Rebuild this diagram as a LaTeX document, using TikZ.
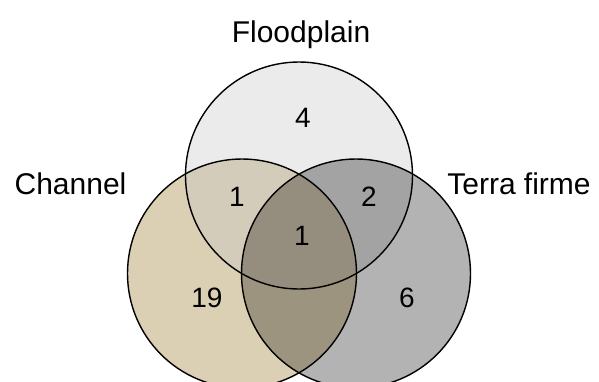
\documentclass[tikz,border=0pt]{standalone}
\usepackage{fontspec}
\setmainfont{Liberation Sans}
\definecolor{fOnly}{HTML}{EBEBEB}
\definecolor{cOnly}{HTML}{DBD0B4}
\definecolor{tOnly}{HTML}{B3B3B3}
\definecolor{fc}{HTML}{D4CCBA}
\definecolor{ft}{HTML}{A3A3A3}
\definecolor{ct}{HTML}{9D9480}
\definecolor{fct}{HTML}{958D7E}
\begin{document}
\begin{tikzpicture}[x=1pt,y=-1pt,
  setlabel/.style={font=\fontsize{30}{33}\selectfont, anchor=base, inner sep=0pt},
  count/.style={font=\fontsize{28}{31}\selectfont, anchor=base, inner sep=0pt},
  outline/.style={draw=black, line width=1.4pt}]
\useasboundingbox (0,0) rectangle (599,381);
\clip (0,0) rectangle (599,381);
\def\pathF{(299,175.5) circle (113.5)}
\def\pathC{(242,273.5) circle (114.5)}
\def\pathT{(356,273.5) circle (114.5)}
\fill[cOnly] \pathC;
\fill[tOnly] \pathT;
\fill[fOnly] \pathF;
\begin{scope}\clip \pathC; \fill[fc] \pathF; \end{scope}
\begin{scope}\clip \pathT; \fill[ft] \pathF; \end{scope}
\begin{scope}\clip \pathC; \fill[ct] \pathT; \end{scope}
\begin{scope}\clip \pathC; \clip \pathT; \fill[fct] \pathF; \end{scope}
\draw[outline] \pathF;
\draw[outline] \pathC;
\draw[outline] \pathT;
\node[setlabel] (lf) at (301,42) {Floodplain};
\node[setlabel] (lc) at (70.5,194.5) {Channel};
\node[setlabel] (lt) at (519,194.5) {Terra firme};
\node[count] (n4) at (303,127.5) {4};
\node[count] (n1a) at (237,206.5) {1};
\node[count] (n2) at (369,206.5) {2};
\node[count] (n1b) at (302,245.5) {1};
\node[count] (n19) at (207,307.5) {19};
\node[count] (n6) at (407,307.5) {6};
\end{tikzpicture}
\end{document}
